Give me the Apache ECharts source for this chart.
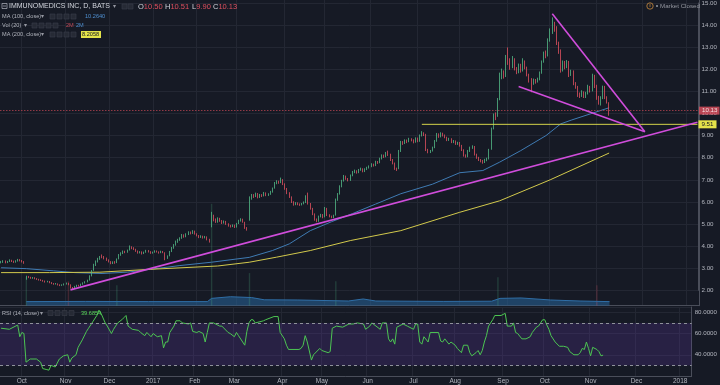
<!DOCTYPE html>
<html><head><meta charset="utf-8">
<script src="https://cdn.jsdelivr.net/npm/echarts@6/dist/echarts.min.js"></script>
<style>html,body{margin:0;padding:0;background:#161a25;}#c{width:720px;height:385px;}</style>
</head><body><div id="c"></div>
<script>
// ---------- data ----------
const opens=[3.25,3.27,3.33,3.26,3.30,3.36,3.32,3.27,3.32,3.39,
3.35,3.30,2.52,2.63,2.58,2.55,2.57,2.53,2.50,2.48,
2.45,2.42,2.38,2.40,2.35,2.31,2.28,2.30,2.25,2.22,
2.24,2.28,2.32,2.25,2.12,2.10,2.18,2.22,2.20,2.28,
2.33,2.38,2.46,2.66,2.90,3.15,3.30,3.42,3.58,3.50,
3.46,3.38,3.30,3.22,3.29,3.25,3.42,3.60,3.68,3.76,
3.72,3.82,3.96,3.92,3.85,3.78,3.70,3.74,3.66,3.72,
3.80,3.75,3.68,3.72,3.78,3.74,3.70,3.76,3.70,3.46,
3.56,3.76,3.92,4.06,4.20,4.28,4.36,4.50,4.42,4.55,
4.62,4.58,4.67,4.55,4.48,4.40,4.45,4.38,4.42,4.30,
4.90,5.38,5.20,5.10,5.25,5.15,5.05,5.12,5.00,4.92,
4.88,4.95,4.86,5.02,5.15,5.22,5.08,4.82,5.20,6.15,
6.30,6.25,6.38,6.20,6.32,6.28,6.40,6.30,6.35,6.45,
6.62,6.85,6.92,6.88,7.00,6.80,6.60,6.40,6.22,6.00,
5.88,5.95,5.90,5.86,5.92,5.98,6.38,5.92,5.70,5.45,
5.20,5.13,5.35,5.42,5.32,5.70,5.40,5.35,5.30,5.40,
6.10,6.36,6.70,6.96,7.15,7.05,6.98,7.20,7.35,7.40,
7.32,7.45,7.50,7.38,7.48,7.55,7.60,7.70,7.65,7.82,
7.78,7.95,8.10,8.05,8.25,8.15,7.90,7.75,7.50,7.50,
8.30,8.70,8.65,8.78,8.72,8.85,8.80,8.70,8.88,8.75,
9.00,9.10,9.05,8.35,8.25,8.30,8.46,8.75,9.05,8.95,
9.10,9.02,8.92,8.80,8.85,8.70,8.75,8.62,8.68,8.55,
8.35,8.10,8.05,8.30,8.45,8.50,8.15,8.00,7.90,7.85,
7.80,7.90,7.96,8.40,9.32,9.90,9.88,10.65,11.70,11.85,
11.70,12.75,12.40,12.10,12.45,12.05,11.85,12.20,11.92,12.35,
12.10,11.75,11.55,11.40,11.50,11.45,11.55,11.85,12.35,12.70,
12.62,13.30,13.75,14.05,13.90,13.20,12.85,11.95,12.30,12.10,
12.35,11.75,11.90,11.35,11.20,10.85,10.80,10.95,10.75,10.90,
11.20,11.05,11.70,11.25,10.75,10.55,10.70,11.20,10.70,10.50];
const closes=[3.28,3.32,3.25,3.30,3.35,3.31,3.27,3.33,3.38,3.34,
3.29,3.24,2.62,2.58,2.55,2.57,2.52,2.50,2.47,2.45,
2.42,2.38,2.40,2.35,2.31,2.28,2.30,2.25,2.22,2.24,
2.28,2.32,2.26,2.12,2.10,2.18,2.22,2.20,2.28,2.33,
2.38,2.45,2.65,2.88,3.15,3.30,3.42,3.48,3.50,3.45,
3.38,3.30,3.22,3.28,3.25,3.40,3.60,3.68,3.75,3.72,
3.80,3.95,3.92,3.85,3.78,3.70,3.74,3.66,3.72,3.80,
3.75,3.68,3.72,3.78,3.74,3.70,3.76,3.72,3.45,3.55,
3.75,3.92,4.05,4.20,4.28,4.35,4.50,4.42,4.55,4.62,
4.58,4.68,4.55,4.48,4.40,4.45,4.38,4.42,4.30,4.22,
5.40,5.20,5.10,5.25,5.15,5.05,5.12,5.00,4.92,4.88,
4.95,4.85,5.02,5.15,5.22,5.10,4.82,4.75,6.15,6.30,
6.25,6.38,6.20,6.32,6.28,6.40,6.30,6.35,6.45,6.60,
6.85,6.92,6.88,7.00,6.80,6.60,6.40,6.22,6.00,5.88,
5.95,5.90,5.86,5.92,5.98,6.25,5.92,5.70,5.45,5.20,
5.12,5.35,5.42,5.30,5.72,5.40,5.35,5.30,5.38,6.10,
6.35,6.70,6.95,7.15,7.05,6.98,7.20,7.35,7.40,7.32,
7.45,7.50,7.38,7.48,7.55,7.60,7.70,7.65,7.82,7.78,
7.95,8.10,8.05,8.20,8.15,7.90,7.75,7.50,7.45,8.30,
8.70,8.65,8.78,8.72,8.85,8.80,8.70,8.88,8.75,9.00,
9.10,9.05,8.35,8.25,8.30,8.45,8.75,9.05,8.95,9.10,
9.02,8.92,8.80,8.85,8.70,8.75,8.62,8.68,8.55,8.35,
8.10,8.05,8.30,8.45,8.50,8.15,8.00,7.90,7.85,7.80,
7.90,7.95,8.35,9.30,9.90,9.85,10.60,11.70,11.85,11.65,
12.55,12.40,12.10,12.45,12.05,11.85,12.20,11.90,12.35,12.10,
11.75,11.55,11.40,11.50,11.45,11.55,11.85,12.35,12.70,12.60,
13.30,13.75,14.05,13.90,13.20,12.85,11.95,12.30,12.10,12.35,
11.75,11.90,11.35,11.20,10.85,10.80,10.95,10.75,10.90,11.20,
11.05,11.70,11.25,10.75,10.55,10.70,11.20,10.70,10.50,10.13];
const lows=[3.22,3.24,3.22,3.23,3.28,3.28,3.24,3.25,3.30,3.31,
3.26,3.20,2.48,2.55,2.52,2.52,2.50,2.47,2.44,2.42,
2.39,2.35,2.36,2.32,2.28,2.25,2.26,2.22,2.19,2.20,
2.22,2.26,2.23,2.08,2.03,2.08,2.15,2.17,2.18,2.25,
2.31,2.36,2.44,2.63,2.88,3.10,3.26,3.38,3.45,3.40,
3.33,3.26,3.18,3.19,3.20,3.23,3.40,3.56,3.64,3.68,
3.70,3.80,3.86,3.82,3.74,3.66,3.67,3.62,3.64,3.70,
3.71,3.65,3.66,3.70,3.71,3.66,3.68,3.68,3.36,3.42,
3.54,3.73,3.88,4.02,4.15,4.24,4.33,4.38,4.40,4.50,
4.53,4.55,4.52,4.44,4.36,4.37,4.34,4.35,4.26,4.16,
4.85,5.12,5.05,5.06,5.10,5.00,5.02,4.96,4.88,4.84,
4.86,4.82,4.84,5.00,5.11,5.06,4.78,4.70,5.15,6.10,
6.18,6.22,6.16,6.18,6.22,6.25,6.26,6.27,6.32,6.42,
6.60,6.80,6.82,6.85,6.76,6.55,6.35,6.18,5.95,5.83,
5.85,5.85,5.82,5.84,5.89,5.95,5.88,5.65,5.40,5.15,
5.08,5.10,5.30,5.26,5.30,5.36,5.30,5.26,5.27,5.38,
6.05,6.33,6.66,6.92,7.00,6.93,6.95,7.16,7.30,7.28,
7.30,7.41,7.34,7.35,7.44,7.51,7.57,7.60,7.62,7.72,
7.75,7.92,7.99,8.02,8.08,7.85,7.70,7.45,7.40,7.48,
8.26,8.58,8.62,8.66,8.70,8.74,8.65,8.68,8.70,8.72,
8.96,8.98,8.30,8.20,8.21,8.28,8.43,8.72,8.90,8.92,
8.96,8.88,8.75,8.76,8.66,8.66,8.58,8.58,8.50,8.30,
8.05,8.00,8.02,8.26,8.40,8.10,7.95,7.85,7.79,7.73,
7.76,7.84,7.92,8.36,9.28,9.70,9.85,10.60,11.55,11.58,
11.65,12.20,11.98,12.05,11.95,11.78,11.82,11.85,11.90,12.00,
11.68,11.40,10.96,11.30,11.35,11.40,11.50,11.80,12.30,12.50,
12.58,13.25,13.60,13.70,13.10,12.70,11.85,11.90,12.00,12.05,
11.65,11.70,11.28,11.12,10.75,10.70,10.75,10.70,10.70,10.86,
10.95,11.00,11.15,10.62,10.40,10.36,10.65,10.65,10.45,9.90];
const highs=[3.33,3.36,3.35,3.33,3.40,3.38,3.34,3.36,3.42,3.41,
3.37,3.32,2.66,2.65,2.61,2.60,2.59,2.55,2.52,2.50,
2.47,2.44,2.43,2.42,2.37,2.33,2.33,2.31,2.27,2.27,
2.31,2.35,2.34,2.27,2.15,2.20,2.25,2.25,2.30,2.36,
2.41,2.48,2.68,2.92,3.20,3.35,3.47,3.55,3.62,3.55,
3.48,3.40,3.32,3.31,3.32,3.44,3.64,3.72,3.80,3.79,
3.84,4.03,3.99,3.95,3.88,3.80,3.77,3.76,3.75,3.83,
3.82,3.77,3.75,3.81,3.80,3.76,3.79,3.78,3.72,3.58,
3.78,3.96,4.09,4.25,4.33,4.40,4.55,4.53,4.58,4.67,
4.66,4.72,4.70,4.58,4.50,4.49,4.47,4.46,4.44,4.33,
5.55,5.42,5.25,5.30,5.28,5.18,5.16,5.14,5.03,4.96,
4.98,4.97,5.05,5.19,5.26,5.24,5.10,4.86,6.25,6.36,
6.35,6.42,6.40,6.36,6.35,6.45,6.43,6.39,6.50,6.65,
6.90,6.98,6.96,7.10,7.03,6.84,6.63,6.44,6.25,6.03,
5.99,5.98,5.93,5.95,6.02,6.30,6.42,5.95,5.73,5.48,
5.25,5.38,5.46,5.45,5.77,5.73,5.44,5.38,5.42,6.15,
6.40,6.75,7.00,7.22,7.19,7.08,7.24,7.40,7.46,7.43,
7.49,7.55,7.52,7.52,7.59,7.65,7.75,7.73,7.86,7.85,
8.00,8.15,8.14,8.26,8.32,8.18,7.94,7.78,7.55,8.35,
8.76,8.75,8.83,8.82,8.90,8.88,8.83,8.92,8.91,9.05,
9.20,9.15,9.08,8.40,8.35,8.50,8.80,9.12,9.10,9.15,
9.13,9.05,8.95,8.90,8.88,8.80,8.78,8.72,8.71,8.58,
8.38,8.15,8.35,8.50,8.56,8.53,8.18,8.04,7.94,7.90,
7.95,8.00,8.40,9.36,10.00,10.05,10.70,11.85,12.03,11.95,
12.65,12.99,12.50,12.60,12.50,12.10,12.26,12.25,12.50,12.40,
12.12,11.80,11.60,11.58,11.56,11.62,11.90,12.40,12.80,12.85,
13.40,13.85,14.35,14.15,13.95,13.25,12.90,12.40,12.38,12.42,
12.38,11.98,11.95,11.42,11.25,10.95,11.05,11.00,10.98,11.30,
11.25,11.80,11.75,11.30,10.80,10.78,11.26,11.25,10.78,10.51];

// moving averages: [bar index, value]
const ma100Pts=[[0,3.02],[12,2.98],[25,2.88],[35,2.80],[48,2.76],[60,2.82],[71,2.95],[85,3.12],[100,3.27],[118,3.49],[129,3.80],[137,4.10],[147,4.70],[157,5.10],[167,5.47],[178,5.90],[190,6.37],[205,6.80],[218,7.32],[229,7.42],[237,7.80],[247,8.32],[259,9.00],[266,9.53],[271,9.70],[280,9.98],[289,10.26]];
const ma200Pts=[[0,2.80],[23,2.80],[47,2.82],[71,2.95],[103,3.10],[118,3.27],[131,3.50],[147,3.80],[166,4.25],[190,4.70],[218,5.53],[237,6.05],[261,7.00],[289,8.21]];
// visible volume bars (millions) and the 20-day volume average
const volumeBars=[[12,14],[32,12],[55,10],[100,50],[118,16],[159,12],[236,14],[283,10]];
const volumeMA=[[12,2.0],[40,2.1],[70,2.0],[98,2.0],[100,3.6],[109,4.4],[119,4.0],[125,2.9],[141,2.8],[165,2.3],[172,3.3],[178,2.3],[210,2.1],[233,2.2],[237,3.6],[247,3.8],[261,2.8],[275,2.3],[289,2.0]];
// RSI(14)
const rsiPts=[[0,65],[4,64],[8,68],[9,57],[10,61],[11,60],[12,33],[14,36],[17,36],[19,33],[20,27],[22,26],[23,25.5],[24,30],[26,28.5],[28,36],[30,39],[32,40],[33,33],[34,37],[36,40],[37,47],[39,54],[41,62],[42,65],[44,71],[46,77],[47,82],[48,79],[50,70],[51,67],[53,60],[54,64],[55,67],[56,70],[58,73],[59,75],[60,77],[61,67],[63,64],[66,63],[67,61],[69,58],[70,61],[72,57],[73,60],[75,57],[77,58],[78,46.5],[79,52],[80,52],[81,61],[83,67],[84,72],[86,72],[87,70],[90,69],[91,70],[92,62],[94,61],[95,62],[97,60],[98,52],[99,61],[100,70],[102,70],[105,67],[106,67],[109,61],[110,60],[112,57],[113,61],[114,58],[117,49],[118,62],[119,70],[120,73],[121,73],[122,70],[126,72],[127,73],[131,76],[133,76],[134,61],[136,55],[137,49],[138,45],[143,45],[144,46],[145,49],[146,58],[147,52],[149,35],[150,40],[153,46],[154,44],[157,42],[158,43],[159,65],[161,67],[164,66],[167,69],[169,69],[171,70],[174,69],[175,64],[177,67],[178,70],[182,64],[183,70],[185,70],[186,55],[187,52],[188,55],[189,50],[190,66],[193,69],[195,67],[198,64],[199,69],[200,69],[201,52],[202,50],[203,57],[205,52],[206,61],[210,61],[211,53],[212,52],[213,55],[215,50],[216,52],[218,49],[219,46],[221,42],[222,49],[224,49],[225,42],[226,39],[228,42],[229,44],[230,40],[231,44],[232,52],[233,58],[234,67],[236,73],[237,77],[240,77],[242,79],[243,67],[245,67],[246,70],[247,61],[248,60],[250,55],[252,55],[254,57],[255,61],[257,66],[258,67],[260,73],[261,73],[262,68],[263,64],[264,58],[266,52],[268,48],[270,48],[272,47],[273,43],[275,40],[277,40],[278,42],[279,46],[280,45],[281,52],[282,46],[283,39],[284,47],[286,45],[287,43],[288,39],[289,39.7]];
// drawings
const supportLine=[[33,2.02],[331,9.60]];
const wedgeTop=[[262,14.51],[306,9.17]];
const wedgeBottom=[[246,11.22],[306,9.17]];
const levelLine=[[200,9.51],[331,9.51]];
const levelText='9.51';
const rsiBand=[30,70];
// labels
const title='IMMUNOMEDICS INC, D, BATS';
const legendMA100='MA (100, close)', legendMA100Val='10.2640';
const legendVol='Vol (20)', legendVolVal1='2M', legendVolVal2='2M';
const legendMA200='MA (200, close)', legendMA200Val='8.2058';
const legendRSI='RSI (14, close)', legendRSIVal='39.6854';
const monthNames=['Jan','Feb','Mar','Apr','May','Jun','Jul','Aug','Sep','Oct','Nov','Dec'];
const holidays=new Set(['2016-11-24','2016-12-26','2017-01-02','2017-01-16','2017-02-20','2017-04-14','2017-05-29','2017-07-04','2017-09-04']);
const totalSlots=332;

// ---------- categories (trading days + future weekdays) ----------
const dates=[];
{let d=new Date(Date.UTC(2016,8,19));
 while(dates.length<totalSlots){const wd=d.getUTCDay();const s=d.toISOString().slice(0,10);
  if(wd!==0&&wd!==6&&!holidays.has(s))dates.push(s);d.setUTCDate(d.getUTCDate()+1);}}
const isMonthStart=i=>i>0&&dates[i].slice(5,7)!==dates[i-1].slice(5,7);
const monthLabel=s=>{const m=+s.slice(5,7);return m===1?s.slice(0,4):monthNames[m-1];};

const candles=opens.map((o,i)=>[o,closes[i],lows[i],highs[i]]);
const last=opens.length-1;

const UP='#53b987',DOWN='#e0505f',GRID='#232733',TXT='#b2b5be',FONT='"Liberation Sans", Arial, sans-serif';
const AXISLINE='#4a4e5a',MAGENTA='#d04ddb';

const chart=echarts.init(document.getElementById('c'),null,{renderer:'canvas'});
const txt=(text,x,y,fill,size,extra)=>Object.assign({type:'text',silent:true,z:50,style:Object.assign({text,x,y,fill,font:size+'px '+FONT,textVerticalAlign:'middle'},extra||{})});
const box=(x,y)=>({type:'rect',silent:true,z:50,shape:{x,y:y-2.5,width:5,height:5},style:{fill:'#262a35',stroke:'#3a3e4a',lineWidth:0.6}});
const caret=(x,y)=>txt('▾',x,y,'#9598a1',6,{font:'6px "DejaVu Sans"'});
const graphics=[
 {type:'rect',silent:true,z:50,shape:{x:2,y:3.5,width:5,height:5},style:{fill:'none',stroke:'#b2b5be',lineWidth:0.7}},
 {type:'line',silent:true,z:50,shape:{x1:3,y1:6,x2:6,y2:6},style:{stroke:'#b2b5be',lineWidth:0.7}},
 txt(title,9,6.5,'#d1d4dc',7),caret(113,6.5),box(122,6.5),box(128,6.5),
 txt('O',138,6.5,'#d1d4dc',7.5),txt(opens[last].toFixed(2),143.8,6.5,DOWN,7.5),
 txt('H',165,6.5,'#d1d4dc',7.5),txt(highs[last].toFixed(2),170.4,6.5,DOWN,7.5),
 txt('L',192,6.5,'#d1d4dc',7.5),txt(lows[last].toFixed(2),196.2,6.5,DOWN,7.5),
 txt('C',213,6.5,'#d1d4dc',7.5),txt(closes[last].toFixed(2),218.4,6.5,DOWN,7.5),
 txt(legendMA100,2,16.5,TXT,5.6),caret(41,16.5),box(50,16.5),box(57,16.5),box(64,16.5),box(71,16.5),txt(legendMA100Val,85,16.5,'#4f8fd0',5.6),
 txt(legendVol,2,25.5,TXT,5.6),caret(24,25.5),box(32,25.5),box(39,25.5),box(46,25.5),box(53,25.5),txt(legendVolVal1,66,25.5,'#c04a58',5.6),txt(legendVolVal2,76,25.5,'#4f8fd0',5.6),
 txt(legendMA200,2,34.5,TXT,5.6),caret(41,34.5),box(50,34.5),box(57,34.5),box(64,34.5),box(71,34.5),
 {type:'rect',silent:true,z:50,shape:{x:81,y:31,width:20,height:7},style:{fill:'#e3e34a'}},
 txt(legendMA200Val,82,34.6,'#131722',5.6),
 txt(legendRSI,2,313,TXT,5.6),caret(40,313),box(48,313),box(55,313),box(62,313),box(69,313),txt(legendRSIVal,81,313,'#5bd75b',5.6),
 {type:'circle',silent:true,z:50,shape:{cx:650,cy:6,r:3.2},style:{fill:'none',stroke:'#c98a3e',lineWidth:0.8}},
 txt('II',648.9,6.2,'#c98a3e',3.5),
 {type:'circle',silent:true,z:50,shape:{cx:657,cy:6,r:1},style:{fill:'#9598a1'}},
 txt('Market Closed',660,6.2,'#9598a1',6.2)
];

const xCommon={type:'category',data:dates,boundaryGap:true,axisTick:{show:false}};
const option={
 backgroundColor:'#161a25',animation:false,
 grid:[
  {left:0,right:21,top:2.4,height:287.9},
  {left:0,right:21,top:0,height:305.7},
  {left:0,right:21,top:307,height:72.5}
 ],
 xAxis:[
  Object.assign({gridIndex:0,axisLine:{show:false},axisLabel:{show:false},splitLine:{show:false}},xCommon),
  Object.assign({gridIndex:1,axisLine:{show:true,lineStyle:{color:AXISLINE}},axisLabel:{show:false},
    splitLine:{show:true,interval:(i)=>isMonthStart(i),lineStyle:{color:GRID,width:1}}},xCommon),
  Object.assign({gridIndex:2,axisLine:{show:true,lineStyle:{color:AXISLINE}},
    axisLabel:{show:true,interval:(i)=>isMonthStart(i),formatter:(v)=>monthLabel(v),color:TXT,fontSize:6.5,fontFamily:FONT,margin:2},
    splitLine:{show:true,interval:(i)=>isMonthStart(i),lineStyle:{color:GRID,width:1}}},xCommon)
 ],
 yAxis:[
  {gridIndex:0,type:'value',position:'right',min:2,max:15,interval:1,
   axisLine:{show:true,lineStyle:{color:AXISLINE}},axisTick:{show:false},
   axisLabel:{color:TXT,fontSize:6.2,fontFamily:FONT,margin:3,formatter:v=>v.toFixed(2)},
   splitLine:{lineStyle:{color:GRID}}},
  {gridIndex:1,type:'value',position:'right',min:0,max:150,
   axisLine:{show:true,lineStyle:{color:AXISLINE}},axisTick:{show:false},axisLabel:{show:false},splitLine:{show:false}},
  {gridIndex:2,type:'value',position:'right',min:20,max:85,interval:20,
   axisLine:{show:true,lineStyle:{color:AXISLINE}},axisTick:{show:false},
   axisLabel:{color:TXT,fontSize:6.2,fontFamily:FONT,margin:3,formatter:v=>v===20?'':v.toFixed(4)},
   splitLine:{lineStyle:{color:GRID}}}
 ],
 series:[
  {type:'bar',xAxisIndex:1,yAxisIndex:1,barWidth:1.4,silent:true,z:1,
   data:volumeBars.map(([i,v])=>({value:[i,v],itemStyle:{color:closes[i]>=opens[i]?'rgba(83,185,135,0.22)':'rgba(224,80,95,0.22)'}}))},
  {type:'line',xAxisIndex:1,yAxisIndex:1,data:volumeMA,symbol:'none',silent:true,z:1,
   lineStyle:{color:'#2f6ea6',width:1},areaStyle:{color:'rgba(38,96,146,0.85)',origin:'start'}},
  {type:'candlestick',xAxisIndex:0,yAxisIndex:0,data:candles,barWidth:0.9,silent:true,z:3,
   itemStyle:{color:UP,color0:DOWN,borderColor:UP,borderColor0:DOWN,borderWidth:0.8},
   markLine:{silent:true,symbol:'none',animation:false,
    data:[{yAxis:closes[last],lineStyle:{color:'#b0414f',type:[1.5,1.5],width:1,opacity:0.8},
      label:{show:true,position:'end',formatter:closes[last].toFixed(2),color:'#fff',backgroundColor:DOWN,padding:[1,2,1,3],fontSize:6.2,fontFamily:FONT,distance:0.5}}]}},
  {type:'line',xAxisIndex:0,yAxisIndex:0,data:ma100Pts,symbol:'none',silent:true,z:2,lineStyle:{color:'#3f7bb3',width:1}},
  {type:'line',xAxisIndex:0,yAxisIndex:0,data:ma200Pts,symbol:'none',silent:true,z:2,lineStyle:{color:'#d2c94c',width:1}},
  {type:'line',xAxisIndex:0,yAxisIndex:0,data:levelLine,symbol:'none',silent:true,z:4,lineStyle:{color:'#d4d34a',width:1},
   endLabel:{show:true,formatter:levelText,color:'#131722',backgroundColor:'#e3e34a',padding:[1,3,1,3],fontSize:6.2,fontFamily:FONT,distance:1}},
  {type:'line',xAxisIndex:0,yAxisIndex:0,data:supportLine,symbol:'none',silent:true,z:5,lineStyle:{color:MAGENTA,width:1.6}},
  {type:'line',xAxisIndex:0,yAxisIndex:0,data:wedgeTop,symbol:'none',silent:true,z:5,lineStyle:{color:MAGENTA,width:1.6}},
  {type:'line',xAxisIndex:0,yAxisIndex:0,data:wedgeBottom,symbol:'none',silent:true,z:5,lineStyle:{color:MAGENTA,width:1.6}},
  {type:'line',xAxisIndex:2,yAxisIndex:2,data:rsiPts,symbol:'none',silent:true,z:3,lineStyle:{color:'#4cc552',width:1},
   markArea:{silent:true,itemStyle:{color:'rgba(103,58,183,0.22)'},data:[[{yAxis:rsiBand[0]},{yAxis:rsiBand[1]}]]},
   markLine:{silent:true,symbol:'none',label:{show:false},lineStyle:{color:'#8f929b',type:[3,3],width:1},
    data:[{yAxis:rsiBand[1]},{yAxis:rsiBand[0]}]}}
 ],
 graphic:graphics
};
chart.setOption(option);
</script></body></html>
